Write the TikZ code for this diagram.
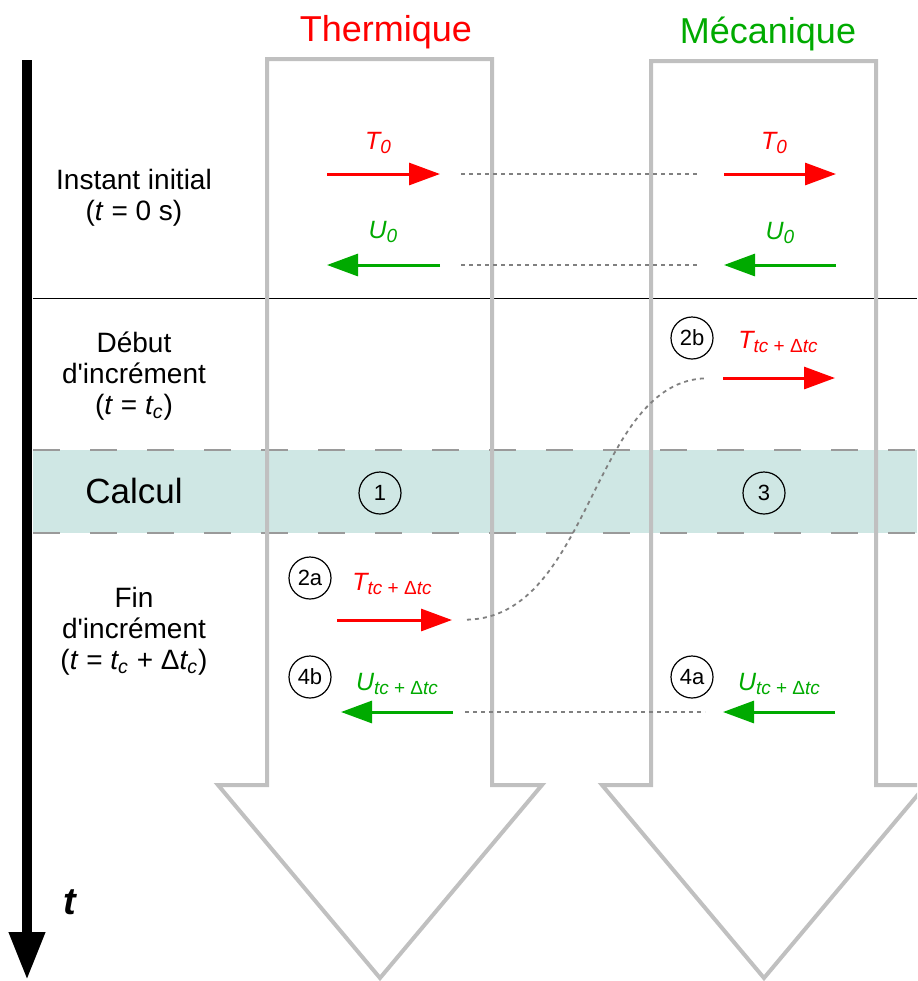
\documentclass[tikz,border=0pt]{standalone}
\usepackage{fontspec}
\setmainfont{Liberation Sans}
\definecolor{thred}{RGB}{255,0,0}
\definecolor{megreen}{RGB}{0,170,0}
\definecolor{bandteal}{RGB}{207,231,228}
\definecolor{framegray}{RGB}{192,192,192}
\definecolor{dotgray}{RGB}{128,128,128}
\usetikzlibrary{arrows.meta}
\newcommand{\indice}[1]{\raisebox{-0.3ex}{\fontsize{9.5}{10}\selectfont #1}}

\begin{document}
\begin{tikzpicture}[x=0.5pt, y=-0.5pt,
  flux/.style={line width=1.5pt, -{Triangle[length=15.5pt,width=11pt]}},
  lien/.style={dotgray, line width=0.9pt, dash pattern=on 2pt off 2pt},
  etape/.style={draw, circle, line width=0.6pt, minimum size=21pt, inner sep=0pt,
                font=\fontsize{11}{13}\selectfont},
  colonne/.style={framegray, line width=2pt, line join=miter},
  titre/.style={font=\fontsize{18}{21}\selectfont},
  phase/.style={align=center, font=\fontsize{14}{15.5}\selectfont},
  grandeur/.style={font=\fontsize{12.5}{14}\selectfont\itshape}]

\useasboundingbox (0,0) rectangle (917,981);
\clip (0,0) rectangle (917,981);

% --- Bande de calcul ---
\fill[bandteal] (33,450) rectangle (917,533);
\draw[framegray!80!black, line width=1pt, dash pattern=on 13.5pt off 15pt] (33,450) -- (917,450);
\draw[framegray!80!black, line width=1pt, dash pattern=on 13.5pt off 15pt] (33,533) -- (917,533);
\draw[black, line width=0.5pt] (33,298) -- (917,298);

% --- Colonnes (grosses fleches) ---
\draw[colonne] (267,785) -- (267,59) -- (492,59) -- (492,785) -- (542,785)
  -- (380,978) -- (218,785) -- cycle;
\draw[colonne] (651,785) -- (651,61) -- (876,61) -- (876,785) -- (926,785)
  -- (764,978) -- (602,785) -- cycle;
\node[titre, thred] (therm) at (386,32) {Thermique};
\node[titre, megreen] (meca) at (768,34) {Mécanique};

% --- Axe du temps ---
\coordinate (axeA) at (27,60);
\coordinate (axeB) at (27,980);
\draw[line width=5pt, -{Triangle[length=24pt,width=17pt]}] (axeA) -- (axeB);
\node[font=\fontsize{19}{22}\selectfont\bfseries\itshape] (tlbl) at (70,902) {t};

% --- Phases ---
\node[phase] (init) at (134,198) {Instant initial\\(\textit{t} = 0 s)};
\node[phase] (debut) at (134,376) {Début\\d\textquotesingle incrément\\(\textit{t} = \textit{t\textsubscript{c}})};
\node[font=\fontsize{17.5}{20}\selectfont] (calcul) at (134,491) {Calcul};
\node[phase] (fin) at (134,631) {Fin\\d\textquotesingle incrément\\(\textit{t} = \textit{t\textsubscript{c}} + Δ\textit{t\textsubscript{c}})};

% --- Instant initial ---
\coordinate (T0gA) at (327,174); \coordinate (T0gB) at (440,174);
\coordinate (T0dA) at (724,174); \coordinate (T0dB) at (836,174);
\coordinate (U0gA) at (440,265); \coordinate (U0gB) at (327,265);
\coordinate (U0dA) at (836,265); \coordinate (U0dB) at (724,265);
\draw[flux, thred] (T0gA) -- (T0gB);
\draw[flux, thred] (T0dA) -- (T0dB);
\draw[flux, megreen] (U0gA) -- (U0gB);
\draw[flux, megreen] (U0dA) -- (U0dB);
\draw[lien, shorten <=10.5pt, shorten >=12pt] (T0gB) -- (T0dA);
\draw[lien, shorten <=10.5pt, shorten >=12pt] (U0gA) -- (U0dB);
\node[grandeur, thred] (T0g) at (378,143) {T\indice{0}};
\node[grandeur, thred] (T0d) at (774,143) {T\indice{0}};
\node[grandeur, megreen] (U0g) at (383,232) {U\indice{0}};
\node[grandeur, megreen] (U0d) at (780,233) {U\indice{0}};

% --- Increment ---
\coordinate (TdA) at (723,378); \coordinate (TdB) at (835,378);
\coordinate (TgA) at (337,620); \coordinate (TgB) at (452,620);
\coordinate (UgA) at (453,712); \coordinate (UgB) at (341,712);
\coordinate (UdA) at (835,712); \coordinate (UdB) at (723,712);
\draw[flux, thred] (TdA) -- (TdB);
\draw[flux, thred] (TgA) -- (TgB);
\draw[flux, megreen] (UgA) -- (UgB);
\draw[flux, megreen] (UdA) -- (UdB);
\draw[lien, shorten <=7.5pt, shorten >=8pt] (TgB) .. controls (592,617) and (592,380) .. (TdA);
\draw[lien, shorten <=6pt, shorten >=9pt] (UgA) -- (UdB);
\node[grandeur, thred] (Td) at (778,342) {T\indice{tc \upshape + Δ\itshape tc}};
\node[grandeur, thred] (Tg) at (392,584) {T\indice{tc \upshape + Δ\itshape tc}};
\node[grandeur, megreen] (Ug) at (397,684) {U\indice{tc \upshape + Δ\itshape tc}};
\node[grandeur, megreen] (Ud) at (779,684) {U\indice{tc \upshape + Δ\itshape tc}};

% --- Etapes ---
\node[etape] (e1) at (380,493) {1};
\node[etape] (e3) at (764,493) {3};
\node[etape] (e2b) at (692,338) {2b};
\node[etape] (e2a) at (310,578) {2a};
\node[etape] (e4b) at (310,677) {4b};
\node[etape] (e4a) at (692,677) {4a};

\end{tikzpicture}
\end{document}
